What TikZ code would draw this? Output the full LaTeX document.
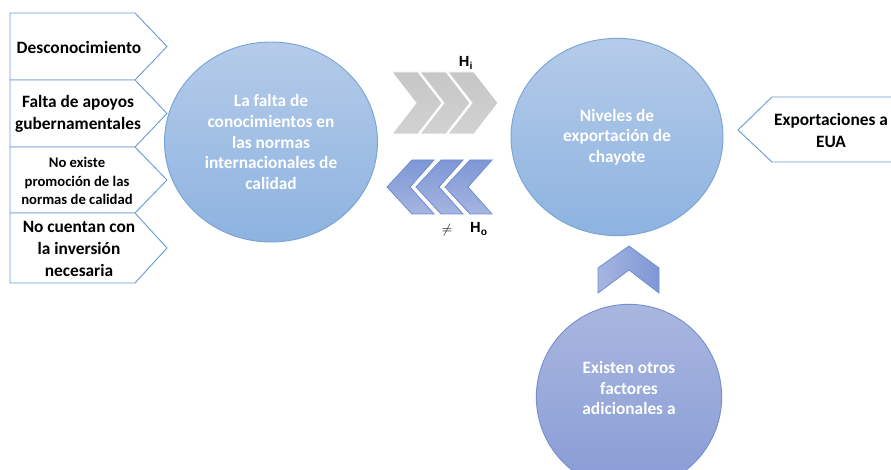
\documentclass[tikz,border=0pt]{standalone}
\usepackage{fontspec}
\setmainfont{Carlito}
\newfontfamily\arialfont{Liberation Sans}
\usepackage{amsmath}
\usetikzlibrary{shapes.geometric}

\definecolor{boxblue}{HTML}{6E9DD6}
\definecolor{bubbleedge}{HTML}{7AA3D6}
\definecolor{bubbletop}{HTML}{B5CBE9}
\definecolor{bubblebot}{HTML}{8DB3E0}
\definecolor{purpletop}{HTML}{A9B6DF}
\definecolor{purplebot}{HTML}{889CD5}
\definecolor{purpleedge}{HTML}{7890D0}
\definecolor{chevgray}{HTML}{C6C6C6}
\definecolor{chevgrayb}{HTML}{D2D2D2}
\definecolor{chevbluetop}{HTML}{7E97D5}
\definecolor{chevbluebot}{HTML}{A6B5E0}
\definecolor{chevblueedge}{HTML}{6F8DD0}

\tikzset{
	causebox/.style={draw=boxblue, fill=white, line width=0.7pt, line join=miter},
	boxtext/.style={font=\fontsize{13}{16.5}\selectfont\bfseries, align=center},
	smalltext/.style={font=\fontsize{11}{13.8}\selectfont\bfseries, align=center},
	bubble/.style={ellipse, draw=bubbleedge, line width=0.7pt, top color=bubbletop, bottom color=bubblebot},
	bubbletext/.style={text=white, font=\fontsize{13}{15.5}\selectfont\bfseries, align=center},
	fwdchev/.style={top color=chevgray, bottom color=chevgrayb, draw=white, line width=0.6pt},
	backchev/.style={top color=chevbluetop, bottom color=chevbluebot, draw=chevblueedge, line width=0.6pt},
	hyplabel/.style={font=\arialfont\bfseries\fontsize{11}{13}\selectfont, inner sep=0pt}
}

\begin{document}
\begin{tikzpicture}[x=0.75pt,y=-0.75pt]
	\useasboundingbox (0,0) rectangle (891,470);
	\clip (0,0) rectangle (891,470);
	% causas
	\draw[causebox] (10,13) -- (135,13) -- (167,46.5) -- (135,80) -- (10,80) -- cycle;
	\draw[causebox] (10,80) -- (135,80) -- (167,113.5) -- (135,147) -- (10,147) -- cycle;
	\draw[causebox] (10,147) -- (135,147) -- (167,180) -- (135,213) -- (10,213) -- cycle;
	\draw[causebox] (10,213) -- (135,213) -- (167,248) -- (135,283) -- (10,283) -- cycle;
	\node[boxtext] (desc) at (79,47) {Desconocimiento};
	\node[boxtext] (apoyos) at (78,114) {Falta de apoyos\\gubernamentales};
	\node[smalltext] (promo) at (77,181) {No existe\\promoción de las\\normas de calidad};
	\node[boxtext] (inver) at (79,249) {No cuentan con\\la inversión\\necesaria};
	% efecto
	\draw[causebox] (738,130) -- (772,97) -- (900,97) -- (900,162) -- (772,162) -- cycle;
	\node[boxtext] (eua) at (831,130) {Exportaciones a\\EUA};
	% circulos
	\node[bubble, minimum width=159.75pt, minimum height=150pt] (falta) at (271,142) {};
	\node[bubbletext] (faltatxt) at (falta.center) {La falta de\\conocimientos en\\las normas\\internacionales de\\calidad};
	\node[bubble, minimum width=159pt, minimum height=148pt] (niveles) at (617,137) {};
	\node[bubbletext] (nivelestxt) at (niveles.center) {Niveles de\\exportación de\\chayote};
	\node[bubble, draw=purpleedge, top color=purpletop, bottom color=purplebot,
		minimum width=139pt, minimum height=139pt] (otros) at (629,397) {};
	\node[bubbletext] (otrostxt) at (629,388) {Existen otros\\factores\\adicionales a};
	% flechas
	\foreach \x in {392,420,448}
		\path[fwdchev] (\x,72) -- (\x+26,72) -- (\x+50,103) -- (\x+26,134) -- (\x,134) -- (\x+24,103) -- cycle;
	\foreach \x in {387,416,445}
		\path[backchev] (\x,187) -- (\x+25,160) -- (\x+47,160) -- (\x+23,187) -- (\x+47,214) -- (\x+25,214) -- cycle;
	\path[left color=chevbluebot, right color=chevbluetop, draw=chevblueedge, line width=0.6pt]
		(598,268) -- (629,246) -- (659,268) -- (659,293) -- (629,270) -- (598,293) -- cycle;
	\node[hyplabel] (hi) at (466,63) {H\textsubscript{i}};
	\node[hyplabel] (ho) at (479,229) {H\textsubscript{o}};
	\node[inner sep=0pt] (neq) at (447,230) {$\neq$};
\end{tikzpicture}
\end{document}
